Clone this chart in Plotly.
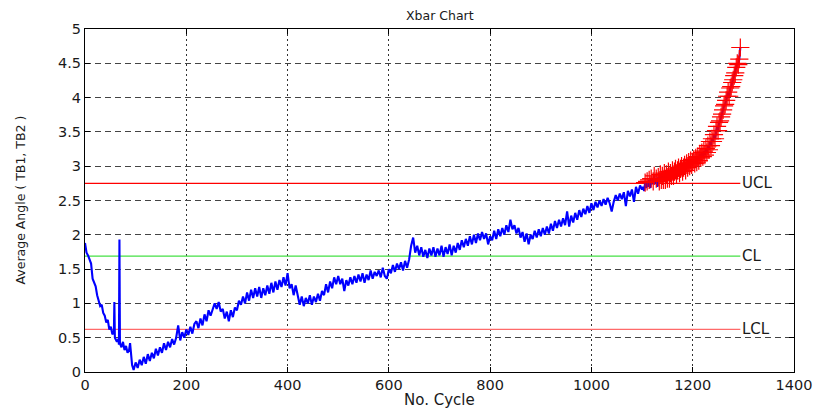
import plotly.graph_objects as go

# ---------------- data ----------------
# early segment (irregular sampling so single-sample spikes stay thin)
cycles_early = [0, 3, 6, 9, 12, 15, 18, 21, 24, 27, 30, 33, 36, 39, 42, 45, 48, 51, 54, 57,
                58, 59, 63, 66, 67, 68, 69, 72, 75, 78, 81, 84, 87, 89, 91, 93, 96, 99]
values_early = [1.88, 1.74, 1.70, 1.63, 1.58, 1.36, 1.30, 1.25, 1.12, 1.05,
                0.96, 0.98, 0.86, 0.82, 0.72, 0.76, 0.62, 0.66, 0.55, 0.58,
                1.02, 0.50, 0.44, 0.48, 0.40, 1.93, 0.42, 0.36, 0.44, 0.32,
                0.38, 0.28, 0.32, 0.42, 0.18, 0.10, 0.03, 0.12]

# middle segment: cycles 100..1100 every 4 cycles
cycles_mid = list(range(100, 1101, 4))
values_mid = [
    0.14, 0.06, 0.18, 0.10, 0.22, 0.12, 0.26, 0.16, 0.28, 0.20,
    0.34, 0.24, 0.36, 0.28, 0.42, 0.32, 0.44, 0.36, 0.48, 0.40,
    0.50, 0.68, 0.46, 0.58, 0.50, 0.62, 0.54, 0.66, 0.56, 0.70,
    0.74, 0.64, 0.78, 0.68, 0.84, 0.74, 0.90, 0.82, 0.92, 1.00,
    0.92, 1.02, 0.88, 0.92, 0.78, 0.88, 0.74, 0.90, 0.80, 0.94,
    0.90, 1.04, 0.98, 1.10, 1.00, 1.16, 1.04, 1.20, 1.08, 1.22,
    1.10, 1.24, 1.08, 1.22, 1.12, 1.26, 1.14, 1.30, 1.16, 1.32,
    1.20, 1.34, 1.24, 1.38, 1.26, 1.44, 1.22, 1.28, 1.12, 1.26,
    1.12, 0.98, 1.10, 0.96, 1.08, 1.00, 1.12, 0.98, 1.10, 1.02,
    1.14, 1.04, 1.18, 1.12, 1.28, 1.16, 1.32, 1.22, 1.38, 1.28,
    1.40, 1.28, 1.36, 1.18, 1.34, 1.26, 1.38, 1.28, 1.40, 1.30,
    1.42, 1.32, 1.44, 1.30, 1.42, 1.34, 1.48, 1.36, 1.46, 1.40,
    1.48, 1.38, 1.52, 1.40, 1.36, 1.50, 1.44, 1.56, 1.46, 1.58,
    1.50, 1.60, 1.48, 1.62, 1.52, 1.64, 1.84, 1.96, 1.74, 1.84,
    1.70, 1.82, 1.68, 1.78, 1.66, 1.80, 1.70, 1.82, 1.68, 1.80,
    1.70, 1.84, 1.68, 1.82, 1.72, 1.86, 1.70, 1.84, 1.74, 1.88,
    1.78, 1.92, 1.82, 1.94, 1.84, 1.98, 1.86, 2.00, 1.88, 2.02,
    1.92, 2.04, 1.94, 2.02, 1.86, 1.98, 1.92, 2.06, 1.94, 2.08,
    1.98, 2.10, 2.00, 2.14, 2.04, 2.22, 2.08, 2.14, 2.02, 2.10,
    1.96, 2.04, 1.90, 2.02, 1.86, 2.00, 1.94, 2.06, 1.96, 2.08,
    1.98, 2.10, 2.00, 2.12, 2.02, 2.16, 2.06, 2.20, 2.10, 2.22,
    2.12, 2.24, 2.14, 2.34, 2.12, 2.28, 2.18, 2.32, 2.22, 2.36,
    2.26, 2.38, 2.30, 2.42, 2.32, 2.46, 2.36, 2.48, 2.40, 2.50,
    2.42, 2.52, 2.44, 2.54, 2.46, 2.34, 2.48, 2.58, 2.50, 2.60,
    2.52, 2.62, 2.42, 2.64, 2.56, 2.66, 2.48, 2.70, 2.60, 2.72,
    2.66,
]

# late segment: cycles 1102..1294 every 2 cycles
cycles_late = list(range(1102, 1295, 2))
values_late = [
    2.70, 2.64, 2.76, 2.68, 2.78, 2.70, 2.80, 2.68, 2.82, 2.74,
    2.78, 2.86, 2.74, 2.82, 2.70, 2.84, 2.78, 2.88, 2.80, 2.86,
    2.80, 2.90, 2.80, 2.88, 2.82, 2.92, 2.82, 2.90, 2.86, 2.94,
    2.86, 2.92, 2.96, 2.88, 2.94, 2.98, 2.90, 2.96, 3.00, 2.92,
    2.98, 3.02, 2.94, 3.04, 2.98, 3.06, 3.00, 3.08, 3.02, 3.06,
    3.10, 3.04, 3.12, 3.06, 3.14, 3.08, 3.18, 3.12, 3.20, 3.14,
    3.22, 3.16, 3.26, 3.20, 3.30, 3.24, 3.36, 3.30, 3.40, 3.36,
    3.46, 3.40, 3.52, 3.58, 3.52, 3.64, 3.66, 3.72, 3.76, 3.82,
    3.88, 3.90, 3.96, 4.02, 4.08, 4.02, 4.14, 4.16, 4.22, 4.26,
    4.32, 4.36, 4.44, 4.50, 4.48, 4.56, 4.73,
]

UCL = 2.75
CL = 1.69
LCL = 0.62
limit_names = ["UCL", "CL", "LCL"]
limit_values = [UCL, CL, LCL]
limit_colors = ["#ff0000", "#44e044", "#ff6a6a"]

x_ticks = [0, 200, 400, 600, 800, 1000, 1200, 1400]
y_ticks = [0, 0.5, 1, 1.5, 2, 2.5, 3, 3.5, 4, 4.5, 5]
y_tick_text = ["0", "0.5", "1", "1.5", "2", "2.5", "3", "3.5", "4", "4.5", "5"]

# ---------------- figure ----------------
cycles = cycles_early + cycles_mid + cycles_late
values = values_early + values_mid + values_late
out_x = [c for c, v in zip(cycles, values) if v > UCL]
out_y = [v for v in values if v > UCL]
last_cycle = cycles[-1]

FONT = "DejaVu Sans, Liberation Sans, Arial, sans-serif"
TXT = "#1a1a1a"
fig = go.Figure()

for name, val, col in zip(limit_names, limit_values, limit_colors):
    fig.add_trace(go.Scatter(x=[0, last_cycle], y=[val, val], mode="lines",
                             line=dict(color=col, width=1.2), hoverinfo="skip",
                             showlegend=False))
    fig.add_annotation(x=last_cycle, y=val, text=name, showarrow=False,
                       xanchor="left", yanchor="middle", xshift=0,
                       font=dict(family=FONT, size=15, color=TXT))

fig.add_trace(go.Scatter(x=cycles, y=values, mode="lines",
                         line=dict(color="#0000ff", width=2.1), showlegend=False))
fig.add_trace(go.Scatter(x=out_x, y=out_y, mode="markers",
                         marker=dict(symbol="cross-thin", size=13, color="#ff0000",
                                     line=dict(color="#ff0000", width=1.2)),
                         showlegend=False))

# the page body adds an 8 px offset, so the figure is 8 px smaller on each side
fig.update_layout(
    width=816, height=402,
    margin=dict(l=77, r=23, t=21, b=38),
    paper_bgcolor="white", plot_bgcolor="white",
    font=dict(family=FONT, size=14, color=TXT),
    showlegend=False,
)
fig.update_xaxes(range=[0, 1400], tickvals=x_ticks, ticks="inside", ticklen=5,
                 tickcolor="black", showline=True, linecolor="black", linewidth=1,
                 mirror="allticks", showgrid=True, gridcolor="#333",
                 griddash="2px,3px", gridwidth=1.3, zeroline=False,
                 tickfont=dict(family=FONT, size=14.5, color=TXT))
fig.update_yaxes(range=[0, 5], tickvals=y_ticks, ticktext=y_tick_text,
                 ticks="inside", ticklen=5, tickcolor="black", showline=True,
                 linecolor="black", linewidth=1, mirror="allticks", showgrid=True,
                 gridcolor="#444", griddash="6px,4px", gridwidth=1.3, zeroline=False,
                 tickfont=dict(family=FONT, size=14.5, color=TXT))

fig.add_annotation(text="Xbar Chart", xref="paper", yref="paper", x=0.5, y=1,
                   yshift=14, showarrow=False, yanchor="middle",
                   font=dict(family=FONT, size=12.5, color=TXT))
fig.add_annotation(text="No. Cycle", xref="paper", yref="paper", x=0.5, y=0,
                   yshift=-28, showarrow=False, yanchor="middle",
                   font=dict(family=FONT, size=15, color=TXT))
fig.add_annotation(text="Average Angle ( TB1, TB2 )", xref="paper", yref="paper",
                   x=0, y=0.5, xshift=-65, textangle=-90, showarrow=False,
                   xanchor="center", yanchor="middle",
                   font=dict(family=FONT, size=12.5, color=TXT))

fig.write_html("out.html")
